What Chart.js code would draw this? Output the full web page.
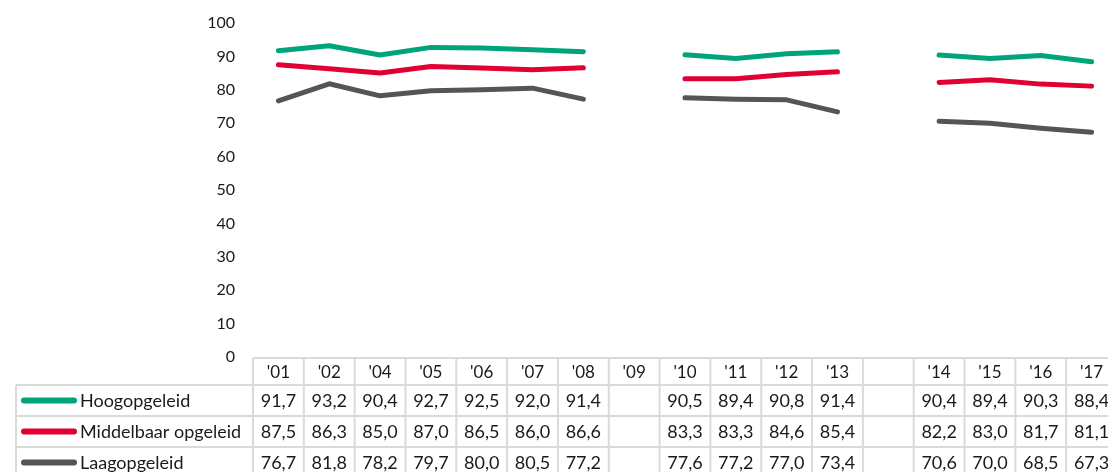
<!DOCTYPE html>
<html>
<head>
<meta charset="utf-8">
<script src="https://cdn.jsdelivr.net/npm/chart.js@4.4.1/dist/chart.umd.min.js"></script>
<style>
  html, body { margin: 0; padding: 0; overflow: hidden; background: #fff; }
  #wrap { width: 1120px; height: 472px; position: relative; }
</style>
</head>
<body>
<div id="wrap"><canvas id="c"></canvas></div>
<script>
// Years (one empty column separates the two survey series)
const years = ["'01","'02","'04","'05","'06","'07","'08","'09","'10","'11","'12","'13","","'14","'15","'16","'17"];
const hoog   = [91.7, 93.2, 90.4, 92.7, 92.5, 92.0, 91.4, null, 90.5, 89.4, 90.8, 91.4, null, 90.4, 89.4, 90.3, 88.4];
const middel = [87.5, 86.3, 85.0, 87.0, 86.5, 86.0, 86.6, null, 83.3, 83.3, 84.6, 85.4, null, 82.2, 83.0, 81.7, 81.1];
const laag   = [76.7, 81.8, 78.2, 79.7, 80.0, 80.5, 77.2, null, 77.6, 77.2, 77.0, 73.4, null, 70.6, 70.0, 68.5, 67.3];
const seriesNames = ["Hoogopgeleid", "Middelbaar opgeleid", "Laagopgeleid"];
const seriesColors = ["#00a47b", "#e00034", "#555555"];
const yMin = 0, yMax = 100, yStep = 10;

// Target plot box (table columns hang off the bottom edge)
const PLOT_TOP = 23, PLOT_BOTTOM = 357;

const FONT = "Lato, 'Open Sans', sans-serif";
const TEXT = "#1a1a1a";
const GRIDLINE = "#dadada";

const fmt = v => v == null ? "" : v.toFixed(1).replace(".", ",");

// Data table under the plot, aligned to the category columns
const dataTable = {
  id: "dataTable",
  afterDraw(chart) {
    const ctx = chart.ctx;
    const xs = chart.scales.x;
    const area = chart.chartArea;
    const n = years.length;
    const colW = (area.right - area.left) / n;
    const top = area.bottom + 1;
    const headerBottom = top + 27;
    const rowH = 31;
    const rows = chart.data.datasets.length;
    const tableBottom = headerBottom + rowH * rows;
    const legendLeft = 16;

    ctx.save();
    ctx.strokeStyle = GRIDLINE;
    ctx.lineWidth = 2;
    ctx.beginPath();
    // header top line (data columns only)
    ctx.moveTo(area.left, top); ctx.lineTo(area.right + 5, top);
    // row lines
    for (let r = 0; r <= rows; r++) {
      const y = headerBottom + r * rowH;
      ctx.moveTo(legendLeft, y); ctx.lineTo(area.right + 5, y);
    }
    // legend column left edge
    ctx.moveTo(legendLeft, headerBottom); ctx.lineTo(legendLeft, tableBottom);
    // column boundaries
    for (let i = 0; i <= n; i++) {
      const x = i < n ? xs.getPixelForValue(i) - colW / 2 : area.right;
      ctx.moveTo(x, top); ctx.lineTo(x, tableBottom);
    }
    ctx.stroke();

    ctx.fillStyle = TEXT;
    ctx.textBaseline = "middle";
    // header labels
    ctx.textAlign = "center";
    ctx.font = "17px " + FONT;
    years.forEach((y, i) => {
      ctx.fillText(y, xs.getPixelForValue(i), (top + headerBottom) / 2 + 1);
    });
    // rows: swatch, series name, values
    chart.data.datasets.forEach((ds, r) => {
      const cy = headerBottom + r * rowH + rowH / 2 + 1;
      ctx.strokeStyle = ds.borderColor;
      ctx.lineWidth = 6;
      ctx.lineCap = "round";
      ctx.beginPath();
      ctx.moveTo(24, cy - 1); ctx.lineTo(74, cy - 1);
      ctx.stroke();
      ctx.font = "18px " + FONT;
      ctx.textAlign = "left";
      ctx.fillText(ds.label, 80, cy);
      ctx.textAlign = "center";
      ds.data.forEach((v, i) => {
        ctx.fillText(fmt(v), xs.getPixelForValue(i), cy);
      });
    });
    ctx.restore();
  }
};

const mkSet = (label, data, color) => ({
  label, data,
  borderColor: color,
  backgroundColor: color,
  borderWidth: 5,
  borderCapStyle: "round",
  borderJoinStyle: "round",
  pointRadius: 0,
  pointHoverRadius: 0,
  tension: 0,
  spanGaps: false,
  fill: false
});

const chart = new Chart(document.getElementById("c"), {
  type: "line",
  data: {
    labels: years,
    datasets: [
      mkSet(seriesNames[0], hoog, seriesColors[0]),
      mkSet(seriesNames[1], middel, seriesColors[1]),
      mkSet(seriesNames[2], laag, seriesColors[2])
    ]
  },
  options: {
    responsive: true,
    maintainAspectRatio: false,
    animation: false,
    events: [],
    layout: { autoPadding: false, padding: { left: 0, right: 3, top: PLOT_TOP, bottom: 472 - PLOT_BOTTOM } },
    plugins: { legend: { display: false }, tooltip: { enabled: false } },
    scales: {
      x: { type: "category", offset: true, display: false },
      y: {
        min: yMin, max: yMax,
        // gap between labels and plot comes from the (invisible) tick length
        grid: { display: false, drawTicks: true, tickLength: 18 },
        border: { display: false },
        ticks: {
          stepSize: yStep,
          padding: 0,
          color: TEXT,
          font: { family: FONT, size: 16 }
        },
        afterFit(scale) { scale.width = 253; }
      }
    }
  },
  plugins: [dataTable]
});

// Nudge the padding so the plot box lands on the intended edges
const pad = chart.options.layout.padding;
const dTop = PLOT_TOP - chart.chartArea.top;
const dBottom = chart.chartArea.bottom - PLOT_BOTTOM;
if (dTop || dBottom) {
  pad.top += dTop;
  pad.bottom += dBottom;
  chart.update();
}
</script>
</body>
</html>
